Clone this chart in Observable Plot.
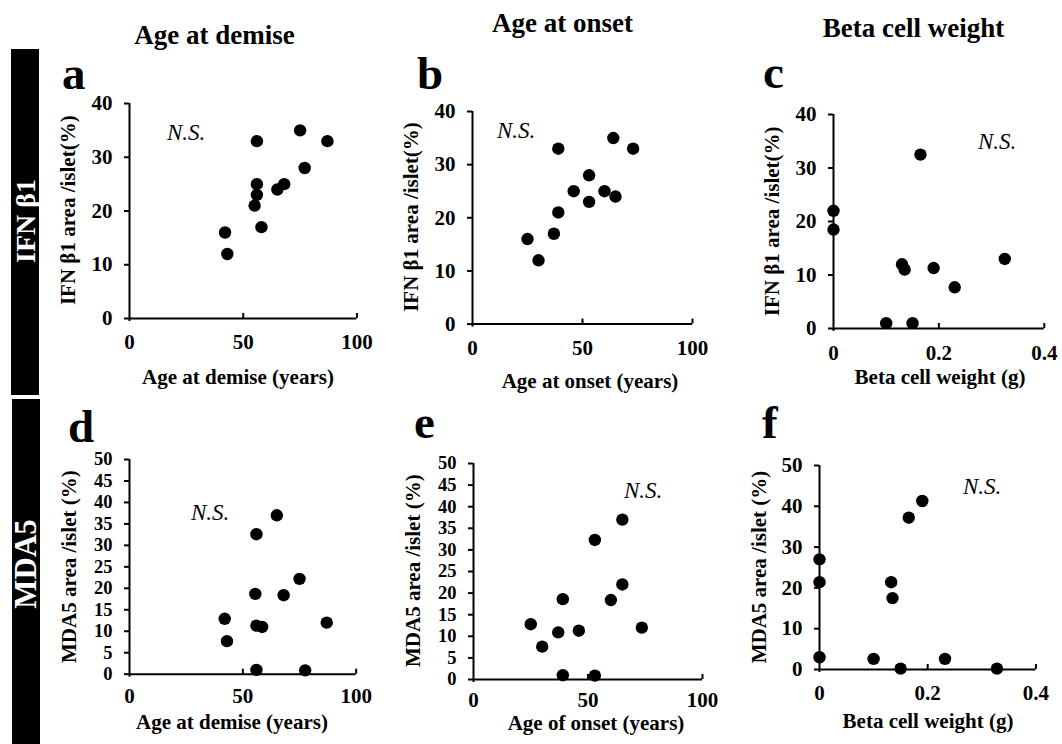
<!DOCTYPE html>
<html>
<head>
<meta charset="utf-8">
<script src="https://cdn.jsdelivr.net/npm/d3@7"></script>
<script src="https://cdn.jsdelivr.net/npm/@observablehq/plot@0.6"></script>
<style>
  html, body { margin: 0; padding: 0; background: #fff; }
  #fig { position: relative; width: 1062px; height: 744px; overflow: hidden; background: #fff;
         font-family: "Liberation Serif", "Times New Roman", "DejaVu Serif", serif; }
  #fig svg { position: absolute; }
  #fig svg text { font-family: "Liberation Serif", "Times New Roman", "DejaVu Serif", serif !important; }
</style>
</head>
<body>
<div id="fig"></div>
<script>
// ---------- data ----------
// IFN β1 vs age at demise (a)
const ageDemiseIFN = [42, 43, 55, 56, 56, 56, 58, 65, 68, 75, 77, 87];
const ifnDemise    = [16, 12, 21, 23, 25, 33, 17, 24, 25, 35, 28, 33];
// IFN β1 vs age at onset (b)
const ageOnsetIFN  = [25, 30, 37, 39, 39, 46, 53, 53, 60, 64, 65, 73];
const ifnOnset     = [16, 12, 17, 33, 21, 25, 28, 23, 25, 35, 24, 33];
// IFN β1 vs beta cell weight (c)
const bcwIFN       = [0, 0, 0.10, 0.13, 0.135, 0.15, 0.165, 0.19, 0.23, 0.325];
const ifnBcw       = [22, 18.5, 1, 12, 11, 1, 32.5, 11.3, 7.7, 13];
// MDA5 vs age at demise (d)
const ageDemiseMDA = [42, 43, 55.5, 56, 56, 56, 58.5, 65, 68, 75, 77.5, 87];
const mdaDemise    = [12.9, 7.7, 18.7, 32.6, 11.3, 1, 11, 37, 18.4, 22.2, 0.9, 12];
// MDA5 vs age of onset (e)
const ageOnsetMDA  = [25, 30, 37, 39, 39, 46, 53, 53, 60, 65, 65, 73.5];
const mdaOnset     = [12.8, 7.6, 10.9, 18.6, 1, 11.3, 32.3, 0.9, 18.4, 37, 22, 12];
// MDA5 vs beta cell weight (f)
const bcwMDA       = [0, 0, 0, 0.10, 0.1325, 0.135, 0.15, 0.165, 0.19, 0.232, 0.328];
const mdaBcw       = [27, 21.4, 3, 2.6, 21.4, 17.5, 0.2, 37.2, 41.3, 2.6, 0.2];

// tick labels
const xTicksAge = [0, 50, 100];
const xTicksBcw = [0, 0.2, 0.4];
const yTicks40  = [0, 10, 20, 30, 40];
const yTicks50by5  = [0, 5, 10, 15, 20, 25, 30, 35, 40, 45, 50];
const yTicks50by10 = [0, 10, 20, 30, 40, 50];

// texts
const columnTitles = ["Age at demise", "Age at onset", "Beta cell weight"];
const rowTitles = ["IFN β1", "MDA5"];
const panelLetters = ["a", "b", "c", "d", "e", "f"];
const yLabels = ["IFN β1 area /islet(%)", "IFN β1 area /islet(%)", "IFN β1 area /islet(%)",
                 "MDA5 area /islet (%)", "MDA5 area /islet (%)", "MDA5 area /islet (%)"];
const xLabels = ["Age at demise (years)", "Age at onset (years)", "Beta cell weight (g)",
                 "Age at demise (years)", "Age of onset (years)", "Beta cell weight (g)"];
const nsText = "N.S.";

// ---------- layout (pixel frame of each panel) ----------
const layout = [
  {x0: 128.5, x1: 356.0,  yb: 317.7, yt: 102.7, pad: 16, yfs: 21,   letter: [62, 89],  ns: [167, 140], xl: [238, 384], yl: 70},
  {x0: 471.7, x1: 691.7,  yb: 323.3, yt: 110.7, pad: 16, yfs: 21,   letter: [417, 89], ns: [497, 138], xl: [590, 388], yl: 413},
  {x0: 832.5, x1: 1043.3, yb: 328.3, yt: 114.3, pad: 17, yfs: 21,   letter: [763, 88], ns: [978, 149], xl: [940, 384], yl: 774},
  {x0: 129.3, x1: 356.0,  yb: 674.0, yt: 459.3, pad: 14, yfs: 18.5, letter: [68, 442], ns: [191, 520], xl: [232, 729], yl: 70.5},
  {x0: 473.3, x1: 702.3,  yb: 678.7, yt: 462.7, pad: 13, yfs: 18.5, letter: [414, 438], ns: [624, 498], xl: [596, 730], yl: 414.5},
  {x0: 819.3, x1: 1035.7, yb: 669.0, yt: 465.0, pad: 16, yfs: 21,   letter: [762, 438], ns: [963, 494], xl: [928, 728], yl: 760.5}
];

const panels = [
  {xs: ageDemiseIFN, ys: ifnDemise, xDomain: [0, 100], yDomain: [0, 40], xTicks: xTicksAge, yTicks: yTicks40},
  {xs: ageOnsetIFN,  ys: ifnOnset,  xDomain: [0, 100], yDomain: [0, 40], xTicks: xTicksAge, yTicks: yTicks40},
  {xs: bcwIFN,       ys: ifnBcw,    xDomain: [0, 0.4], yDomain: [0, 40], xTicks: xTicksBcw, yTicks: yTicks40},
  {xs: ageDemiseMDA, ys: mdaDemise, xDomain: [0, 100], yDomain: [0, 50], xTicks: xTicksAge, yTicks: yTicks50by5},
  {xs: ageOnsetMDA,  ys: mdaOnset,  xDomain: [0, 100], yDomain: [0, 50], xTicks: xTicksAge, yTicks: yTicks50by5},
  {xs: bcwMDA,       ys: mdaBcw,    xDomain: [0, 0.4], yDomain: [0, 50], xTicks: xTicksBcw, yTicks: yTicks50by10}
];

const SERIF = "Liberation Serif, Times New Roman, DejaVu Serif, serif";
const fig = document.getElementById("fig");

// ---------- the six scatter plots ----------
panels.forEach((p, i) => {
  const L = layout[i];
  const ml = 70, mr = 20, mt = 20, mb = 45;
  const w = ml + (L.x1 - L.x0) + mr;
  const h = mt + (L.yb - L.yt) + mb;
  const rows = p.xs.map((x, k) => ({x, y: p.ys[k]}));
  const fmt = d => String(d);
  const chart = Plot.plot({
    width: w, height: h,
    marginLeft: ml, marginRight: mr, marginTop: mt, marginBottom: mb,
    x: {domain: p.xDomain, axis: null},
    y: {domain: p.yDomain, axis: null},
    style: {fontFamily: SERIF, fontSize: "21px", fontWeight: "bold", color: "#000",
            background: "transparent", overflow: "visible"},
    marks: [
      Plot.axisY(p.yTicks, {tickSize: 5, tickPadding: 12, strokeWidth: 2, label: null,
                            tickFormat: fmt, fill: "#000", stroke: "#000", fontSize: L.yfs}),
      Plot.axisX(p.xTicks, {tickSize: 0, tickPadding: L.pad, label: null,
                            tickFormat: fmt, fill: "#000"}),
      Plot.ruleY([p.yDomain[0]], {stroke: "#000", strokeWidth: 2}),
      Plot.ruleX([p.xDomain[0]], {stroke: "#000", strokeWidth: 2, insetBottom: -3}),
      Plot.ruleX(p.xTicks.slice(1), {x: d => d, y1: () => p.yDomain[0], y2: () => p.yDomain[0],
                                     insetTop: -5, stroke: "#000", strokeWidth: 2}),
      Plot.dot(rows, {x: "x", y: "y", r: 6.2, fill: "#000", stroke: "none"})
    ]
  });
  chart.style.left = (L.x0 - ml) + "px";
  chart.style.top = (L.yt - mt) + "px";
  fig.appendChild(chart);
});

// ---------- annotation text layer ----------
const svg = d3.select(fig).append("svg")
  .attr("width", 1062).attr("height", 744)
  .style("left", "0px").style("top", "0px")
  .style("pointer-events", "none");

// row label bars
const bars = [{x: 11, y: 49, w: 28, h: 346, cy: 221, fs: 28}, {x: 12, y: 399, w: 28, h: 345, cy: 564, fs: 31}];
bars.forEach((b, i) => {
  svg.append("rect").attr("x", b.x).attr("y", b.y).attr("width", b.w).attr("height", b.h).attr("fill", "#000");
  svg.append("text")
    .attr("transform", `translate(${b.x + b.w / 2 + 10},${b.cy}) rotate(-90)`)
    .attr("text-anchor", "middle")
    .attr("fill", "#fff").attr("font-weight", "bold").attr("font-size", b.fs)
    .text(rowTitles[i]);
});

// column titles
const titlePos = [[214.5, 44], [562.5, 32], [913.5, 37]];
columnTitles.forEach((t, i) => {
  svg.append("text").attr("x", titlePos[i][0]).attr("y", titlePos[i][1])
    .attr("text-anchor", "middle").attr("font-weight", "bold").attr("font-size", 27)
    .attr("fill", "#000").text(t);
});

layout.forEach((L, i) => {
  svg.append("text").attr("x", L.letter[0]).attr("y", L.letter[1])
    .attr("font-weight", "bold").attr("font-size", 47).attr("fill", "#000")
    .text(panelLetters[i]);
  svg.append("text").attr("x", L.ns[0]).attr("y", L.ns[1])
    .attr("font-style", "italic").attr("font-size", 23).attr("fill", "#000")
    .text(nsText);
  svg.append("text").attr("x", L.xl[0]).attr("y", L.xl[1])
    .attr("text-anchor", "middle").attr("font-weight", "bold").attr("font-size", 21)
    .attr("fill", "#000").text(xLabels[i]);
  const cy = (L.yb + L.yt) / 2;
  svg.append("text")
    .attr("transform", `translate(${L.yl + 5},${cy}) rotate(-90)`)
    .attr("text-anchor", "middle").attr("font-weight", "bold").attr("font-size", 21)
    .attr("fill", "#000").text(yLabels[i]);
});
</script>
</body>
</html>
